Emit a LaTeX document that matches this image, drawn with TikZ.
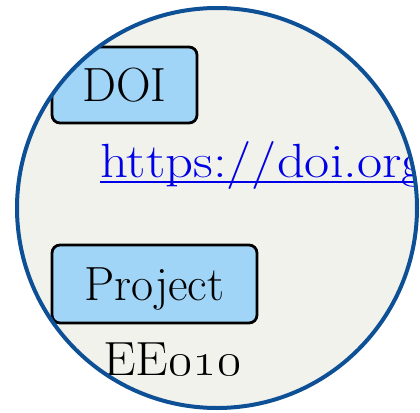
\RequirePackage{fix-cm}
\documentclass[tikz,border=0pt]{standalone}
\usepackage{tikz}

\definecolor{ringblue}{RGB}{14,80,150}
\definecolor{paper}{RGB}{242,242,237}
\definecolor{tagblue}{RGB}{160,213,247}
\definecolor{linkblue}{RGB}{0,0,230}
\newcommand{\bigtext}{\fontsize{48}{58}\selectfont}
\tikzset{
    tag/.style={draw=black, fill=tagblue, line width=2.8pt, rounded corners=8pt,
        text height=33pt, text depth=0pt, inner sep=0pt, font=\bigtext},
    plain/.style={anchor=base west, inner sep=0pt, font=\bigtext}
}

\begin{document}
\begin{tikzpicture}[x=1pt,y=-1pt]
    \useasboundingbox (0,0) rectangle (420,412);
    \fill[paper] (217,208) circle (200pt);
    \begin{scope}
        \clip (217,208) circle (200pt);
        \node[tag, minimum width=145pt, minimum height=76pt] (doi) at (124.5,85) {DOI};
        \node[plain, text=linkblue, xscale=1.14, transform shape] (url) at (100,177) {https://doi.org};
        \draw[linkblue, line width=2pt] ([yshift=-5pt]url.base west) -- ([yshift=-5pt]url.base east);
        \node[tag, minimum width=205pt, minimum height=78pt] (project) at (154.5,284) {Project};
        \node[plain, xscale=1.08, transform shape] (code) at (103,375) {EE\oldstylenums{010}};
    \end{scope}
    \draw[ringblue, line width=4pt] (217,208) circle (200pt);
\end{tikzpicture}
\end{document}
